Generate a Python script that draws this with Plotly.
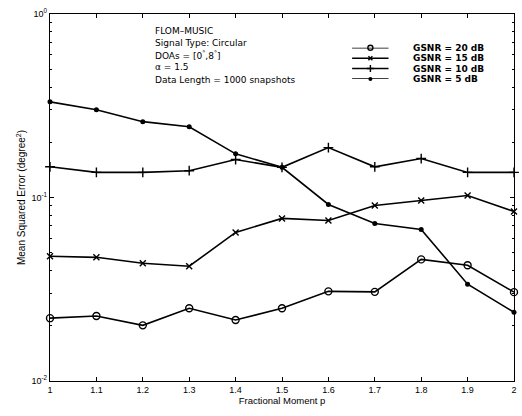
import plotly.graph_objects as go

# Fractional moment order p
p_values = [1.0, 1.1, 1.2, 1.3, 1.4, 1.5, 1.6, 1.7, 1.8, 1.9, 2.0]

# Mean squared error (degree^2) for each GSNR level
mse_20db = [0.0220, 0.0226, 0.0201, 0.0249, 0.0215, 0.0249, 0.0308, 0.0306, 0.0460, 0.0427, 0.0305]
mse_15db = [0.0478, 0.0472, 0.0438, 0.0422, 0.0645, 0.0769, 0.0750, 0.0905, 0.0963, 0.1025, 0.0839]
mse_10db = [0.147, 0.137, 0.137, 0.140, 0.161, 0.146, 0.187, 0.147, 0.163, 0.137, 0.137]
mse_5db = [0.332, 0.301, 0.259, 0.243, 0.173, 0.146, 0.0916, 0.0722, 0.0670, 0.0337, 0.0237]

series_names = ["GSNR = 20 dB", "GSNR = 15 dB", "GSNR = 10 dB", "GSNR = 5 dB"]
series_values = [mse_20db, mse_15db, mse_10db, mse_5db]
series_markers = [
    dict(symbol="circle-open", size=7, color="black", line=dict(width=1.4, color="black")),
    dict(symbol="x-thin-open", size=6, color="black", line=dict(width=1.4, color="black")),
    dict(symbol="cross-thin-open", size=7, color="black", line=dict(width=1.4, color="black")),
    dict(symbol="circle", size=5, color="black"),
]

x_ticks = [1.0, 1.1, 1.2, 1.3, 1.4, 1.5, 1.6, 1.7, 1.8, 1.9, 2.0]
x_tick_text = ["1", "1.1", "1.2", "1.3", "1.4", "1.5", "1.6", "1.7", "1.8", "1.9", "2"]
y_ticks = [0.01, 0.1, 1.0]
y_tick_text = ["10<sup>-2</sup>", "10<sup>-1</sup>", "10<sup>0</sup>"]
y_minor = [m * 10 ** e for e in (-2, -1) for m in range(2, 10)]

info_lines = [
    "FLOM–MUSIC",
    "Signal Type: Circular",
    "DOAs = [0<sup>°</sup>,8<sup>°</sup>]",
    "α = 1.5",
    "Data Length = 1000 snapshots",
]

FONT = "Liberation Sans, Arial, sans-serif"
WIDE_FONT = "DejaVu Sans, sans-serif"

fig = go.Figure()

for name, vals, mk in zip(series_names, series_values, series_markers):
    fig.add_trace(go.Scatter(
        x=p_values, y=vals, name=name, mode="lines+markers",
        line=dict(color="black", width=1.6), marker=mk,
        showlegend=False, cliponaxis=False,
    ))

# Legend key samples on a hidden overlay axis pair, labels in paper space
legend_rows = [0.0, 1.0, 2.0, 3.0]
legend_label_y = [0.908, 0.880, 0.851, 0.823]
for row, ly, name, mk in zip(legend_rows, legend_label_y, series_names, series_markers):
    fig.add_trace(go.Scatter(
        x=[0.0, 1.0], y=[row, row], mode="lines",
        line=dict(color="black", width=1.5), showlegend=False,
        xaxis="x2", yaxis="y2", hoverinfo="skip", cliponaxis=False,
    ))
    fig.add_trace(go.Scatter(
        x=[0.5], y=[row], mode="markers", marker=dict(mk, size=max(mk["size"] - 2, 4)),
        showlegend=False, xaxis="x2", yaxis="y2", hoverinfo="skip", cliponaxis=False,
    ))
    fig.add_annotation(
        x=0.777, y=ly, xref="paper", yref="paper", text=name, showarrow=False,
        xanchor="left", yanchor="middle",
        font=dict(family=WIDE_FONT, size=9, weight="bold", color="black"),
    )

# Simulation settings text block
for i, line in enumerate(info_lines):
    fig.add_annotation(
        x=0.221, y=0.954 - i * 0.0332, xref="paper", yref="paper",
        text=line, showarrow=False, xanchor="left", yanchor="middle",
        font=dict(family=WIDE_FONT, size=9, color="black"),
    )

axis_common = dict(
    showline=True, linecolor="black", linewidth=1.2, mirror="allticks",
    ticks="inside", tickcolor="black", ticklen=4, showgrid=False,
    zeroline=False, tickfont=dict(family=FONT, size=9, color="black"),
)

fig.update_layout(
    width=522, height=416,
    margin=dict(l=50, r=5, t=14, b=35),
    paper_bgcolor="white", plot_bgcolor="white",
    font=dict(family=FONT, size=9, color="black"),
    xaxis=dict(
        range=[1, 2], tickvals=x_ticks, ticktext=x_tick_text,
        title=dict(text="Fractional Moment p", standoff=2,
                   font=dict(family=FONT, size=9.5, color="black")),
        **axis_common,
    ),
    yaxis=dict(
        type="log", range=[-2, 0], tickvals=y_ticks, ticktext=y_tick_text,
        minor=dict(tickvals=y_minor, ticks="inside", ticklen=2, tickcolor="black"),
        title=dict(text="Mean Squared Error (degree<sup>2</sup>)", standoff=3,
                   font=dict(family=FONT, size=10, color="black")),
        **axis_common,
    ),
    xaxis2=dict(domain=[0.651, 0.730], range=[0, 1], visible=False,
                anchor="y2", fixedrange=True),
    yaxis2=dict(domain=[0.823, 0.908], range=[3, 0], visible=False,
                anchor="x2", fixedrange=True),
)

fig.write_html("out.html")
